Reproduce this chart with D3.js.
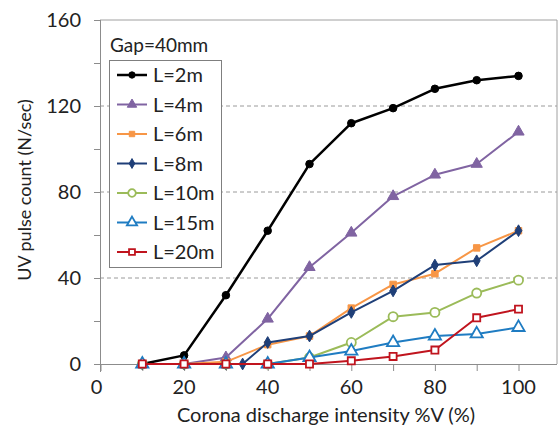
<!DOCTYPE html>
<html>
<head>
<meta charset="utf-8">
<script src="https://cdn.jsdelivr.net/npm/d3@7"></script>
<style>
  body { margin: 0; background: #fff; }
  text { font-family: Lato, "Open Sans", sans-serif; fill: #222; }
</style>
</head>
<body>
<div id="chart"></div>
<script>
'use strict';

// data
const xValues = [10, 20, 30, 40, 50, 60, 70, 80, 90, 100];
const xValues8m = [10, 20, 30, 34, 40, 50, 60, 70, 80, 90, 100];

const l2m = [0, 4, 32, 62, 93, 112, 119, 128, 132, 134];
const l4m = [0, 0, 3, 21, 45, 61, 78, 88, 93, 108];
const l6m = [0, 0, 1, 9, 13, 26, 37, 42, 54, 62];
const l8m = [0, 0, 0, 0, 10, 13, 24, 34, 46, 48, 62];
const l10m = [0, 0, 0, 0, 3, 10, 22, 24, 33, 39];
const l15m = [0, 0, 0, 0, 3, 6, 10, 13, 14, 17];
const l20m = [0, 0, 0, 0, 0, 1.5, 3.5, 6.5, 21.5, 25.5];

const seriesNames = ["L=2m", "L=4m", "L=6m", "L=8m", "L=10m", "L=15m", "L=20m"];
const xTickLabels = [0, 20, 40, 60, 80, 100];
const yTickLabels = [0, 40, 80, 120, 160];
const gridValues = [40, 80, 120];

const series = [
    { name: seriesNames[0], xs: xValues, ys: l2m, color: "#000000", shape: "circle", open: false, width: 2.5 },
    { name: seriesNames[1], xs: xValues, ys: l4m, color: "#8064a2", shape: "triangle", open: false, width: 2 },
    { name: seriesNames[2], xs: xValues, ys: l6m, color: "#f79646", shape: "square", open: false, width: 2 },
    { name: seriesNames[3], xs: xValues8m, ys: l8m, color: "#1f3f78", shape: "diamond", open: false, width: 2 },
    { name: seriesNames[4], xs: xValues, ys: l10m, color: "#9bbb59", shape: "circle", open: true, width: 2 },
    { name: seriesNames[5], xs: xValues, ys: l15m, color: "#1f7cc2", shape: "triangle", open: true, width: 2 },
    { name: seriesNames[6], xs: xValues, ys: l20m, color: "#c0141e", shape: "square", open: true, width: 2 },
];

const W = 560, H = 431;
const plot = { left: 100, top: 20, right: 557, bottom: 364 };

const svg = d3.select("#chart").append("svg")
    .attr("width", W)
    .attr("height", H);

const x = d3.scaleLinear().domain([0, 100]).range([100.5, 518.5]);
const y = d3.scaleLinear().domain([0, 160]).range([plot.bottom, plot.top]);

// gridlines
svg.append("g").selectAll("line")
    .data(gridValues)
    .join("line")
    .attr("x1", plot.left).attr("x2", plot.right)
    .attr("y1", d => y(d)).attr("y2", d => y(d))
    .attr("stroke", "#9a9a9a")
    .attr("stroke-dasharray", "4,3");

// plot frame
svg.append("path")
    .attr("d", `M${plot.left},${plot.top}H${plot.right}V${plot.bottom}`)
    .attr("fill", "none")
    .attr("stroke", "#a0a0a0");

// axes
const xAxis = svg.append("g")
    .attr("transform", `translate(0,${plot.bottom})`)
    .call(d3.axisBottom(x).tickValues(d3.range(0, 101, 10)).tickSize(7).tickFormat(""));
xAxis.select(".domain").attr("d", `M${plot.left - 6},0.5H${plot.right}`);
xAxis.selectAll("line, path").attr("stroke", "#8c8c8c");

const yAxis = svg.append("g")
    .attr("transform", `translate(${plot.left},0)`)
    .call(d3.axisLeft(y).tickValues(d3.range(0, 161, 20)).tickSize(6).tickFormat(""));
yAxis.select(".domain").attr("d", `M0.5,${plot.top}V${plot.bottom + 8}`);
yAxis.selectAll("line, path").attr("stroke", "#8c8c8c");

svg.append("g").selectAll("text")
    .data(xTickLabels)
    .join("text")
    .attr("x", d => x(d) - (d === 0 ? 4 : 0))
    .attr("y", 394)
    .attr("text-anchor", "middle")
    .style("font-size", "20px")
    .text(d => d);

svg.append("g").selectAll("text")
    .data(yTickLabels)
    .join("text")
    .attr("x", 81)
    .attr("y", d => y(d) + 7)
    .attr("text-anchor", "end")
    .style("font-size", "20px")
    .text(d => d);

// axis titles
svg.append("text")
    .attr("x", 326).attr("y", 422)
    .attr("text-anchor", "middle")
    .style("font-size", "20px")
    .text("Corona discharge intensity %V (%)");

svg.append("text")
    .attr("transform", "translate(31,190) rotate(-90)")
    .attr("text-anchor", "middle")
    .style("font-size", "18px")
    .text("UV pulse count (N/sec)");

// marker drawing
const symbolFor = {
    circle: d3.symbolCircle,
    triangle: d3.symbolTriangle,
    square: d3.symbolSquare,
    diamond: d3.symbolDiamond,
};
const sizeFor = { circle: 45, triangle: 55, square: 42, diamond: 40 };
const openSize = { circle: 65, triangle: 65, square: 50, diamond: 40 };

function drawMarker(sel, s, scale = 1) {
    const size = (s.open ? openSize[s.shape] : sizeFor[s.shape]) * scale;
    sel.attr("d", d3.symbol().type(symbolFor[s.shape]).size(size))
        .attr("fill", s.open ? "#fff" : s.color)
        .attr("stroke", s.color)
        .attr("stroke-width", s.open ? 1.8 : 1);
}

const line = d3.line().x(d => x(d[0])).y(d => y(d[1]));

series.forEach(s => {
    const pts = s.xs.map((v, i) => [v, s.ys[i]]);
    const g = svg.append("g");
    g.append("path")
        .attr("d", line(pts))
        .attr("fill", "none")
        .attr("stroke", s.color)
        .attr("stroke-width", s.width)
        .attr("stroke-linejoin", "round");
    g.selectAll("path.mk")
        .data(pts)
        .join("path")
        .attr("class", "mk")
        .attr("transform", d => `translate(${x(d[0])},${y(d[1])})`)
        .call(drawMarker, s);
});

// legend
svg.append("text")
    .attr("x", 110).attr("y", 52)
    .style("font-size", "19px")
    .text("Gap=40mm");

const legend = svg.append("g");
legend.append("rect")
    .attr("x", 109.5).attr("y", 60.5)
    .attr("width", 112).attr("height", 207)
    .attr("fill", "#fff")
    .attr("stroke", "#7f7f7f");

const rows = legend.selectAll("g.row")
    .data(series)
    .join("g")
    .attr("class", "row")
    .attr("transform", (d, i) => `translate(0,${75 + i * 29.5})`);

rows.append("line")
    .attr("x1", 117).attr("x2", 147)
    .attr("stroke", d => d.color)
    .attr("stroke-width", d => d.width);

rows.each(function (s) {
    d3.select(this).append("path")
        .attr("transform", "translate(132,0)")
        .call(drawMarker, s, 0.7);
});

rows.append("text")
    .attr("x", 153).attr("y", 7)
    .style("font-size", "20px")
    .text(d => d.name);
</script>
</body>
</html>
